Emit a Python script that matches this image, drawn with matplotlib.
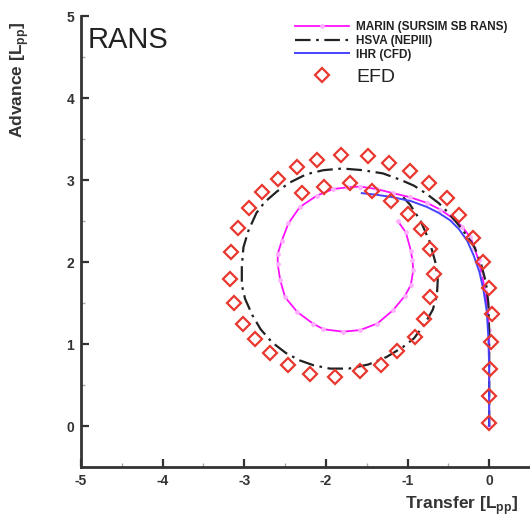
import matplotlib.pyplot as plt
from matplotlib.ticker import MultipleLocator

# MARIN (SURSIM SB RANS)
marin_x = [0.00, 0.00, -0.02, -0.05, -0.09, -0.13, -0.18, -0.23, -0.33, -0.44, -0.60, -0.76, -0.97, -1.18,
           -1.38, -1.58, -1.74, -1.91, -2.11, -2.32, -2.46, -2.54, -2.59, -2.59, -2.56, -2.50, -2.35, -2.16,
           -2.03, -1.79, -1.58, -1.37, -1.18, -1.03, -0.96, -0.93, -0.94, -0.96, -1.02, -1.12]
marin_y = [0.00, 1.17, 1.45, 1.65, 1.85, 2.02, 2.17, 2.30, 2.43, 2.53, 2.64, 2.72, 2.79, 2.84,
           2.89, 2.92, 2.91, 2.89, 2.81, 2.67, 2.47, 2.26, 2.10, 1.97, 1.78, 1.57, 1.39, 1.25,
           1.18, 1.15, 1.17, 1.25, 1.41, 1.59, 1.72, 1.90, 2.02, 2.14, 2.36, 2.50]

# HSVA (NEPIII)
hsva_x = [0.00, 0.00, 0.00, -0.01, -0.04, -0.10, -0.18, -0.28, -0.39, -0.50, -0.62, -0.78, -0.92, -1.08,
          -1.30, -1.55, -1.80, -2.03, -2.24, -2.44, -2.60, -2.75, -2.85, -2.95, -3.01, -3.03, -3.03, -2.99,
          -2.90, -2.80, -2.66, -2.49, -2.32, -2.15, -1.95, -1.72, -1.48, -1.26, -1.06, -0.92, -0.78, -0.69,
          -0.64, -0.63, -0.66, -0.73, -0.84, -0.97, -1.10]
hsva_y = [0.00, 0.55, 1.15, 1.50, 1.75, 1.98, 2.18, 2.33, 2.47, 2.60, 2.72, 2.84, 2.93, 3.00,
          3.08, 3.12, 3.14, 3.12, 3.07, 2.97, 2.86, 2.73, 2.60, 2.38, 2.18, 1.95, 1.72, 1.55,
          1.35, 1.18, 1.02, 0.89, 0.80, 0.74, 0.70, 0.70, 0.75, 0.84, 0.96, 1.07, 1.26, 1.42,
          1.60, 1.78, 2.00, 2.25, 2.50, 2.70, 2.84]

# IHR (CFD)
ihr_x = [0.00, 0.00, -0.01, -0.03, -0.07, -0.12, -0.19, -0.27, -0.37, -0.48, -0.62, -0.76, -0.95, -1.18, -1.38, -1.56]
ihr_y = [0.00, 0.70, 1.08, 1.40, 1.66, 1.88, 2.08, 2.26, 2.40, 2.51, 2.60, 2.67, 2.74, 2.79, 2.82, 2.84]

# EFD
efd_x = [0.00, 0.00, 0.01, 0.02, 0.03, 0.00, -0.07, -0.20, -0.37, -0.52, -0.74, -0.97, -1.23, -1.48, -1.81,
         -2.11, -2.35, -2.59, -2.78, -2.94, -3.08, -3.16, -3.17, -3.13, -3.01, -2.87, -2.68, -2.46, -2.19,
         -1.89, -1.58, -1.32, -1.13, -0.91, -0.80, -0.72, -0.67, -0.73, -0.84, -0.99, -1.20, -1.43, -1.70,
         -2.02, -2.29]
efd_y = [0.04, 0.37, 0.70, 1.03, 1.37, 1.68, 2.00, 2.29, 2.57, 2.78, 2.96, 3.11, 3.21, 3.29, 3.30,
         3.25, 3.16, 3.01, 2.85, 2.66, 2.42, 2.12, 1.79, 1.50, 1.25, 1.06, 0.89, 0.75, 0.64,
         0.60, 0.67, 0.75, 0.92, 1.09, 1.30, 1.57, 1.85, 2.16, 2.40, 2.59, 2.74, 2.86, 2.96,
         2.92, 2.84]


def main():
    plt.rcParams['font.family'] = ['Liberation Sans', 'DejaVu Sans']
    plt.rcParams['axes.unicode_minus'] = False
    fig = plt.figure(figsize=(5.30, 5.19), dpi=100)
    ax = fig.add_axes([81 / 530, 1 - 467 / 519, 1 - 81 / 530, (467 - 16) / 519])

    l1, = ax.plot(marin_x, marin_y, color='#ff11ff', lw=1.3, marker='o', ms=3.5,
                  mfc='#ffb0ff', mec='none', label='MARIN (SURSIM SB RANS)')
    l2, = ax.plot(hsva_x, hsva_y, color='#222222', lw=1.6, linestyle=(0, (7, 2.5, 1.2, 2.5)),
                  label='HSVA (NEPIII)')
    l3, = ax.plot(ihr_x, ihr_y, color='#4444ff', lw=1.4, label='IHR (CFD)')
    l4, = ax.plot(efd_x, efd_y, linestyle='none', marker='D', ms=7, mfc='none',
                  mec='#e8372f', mew=1.6, label='EFD')

    ax.set_xlim(-5, 0.5)
    ax.set_ylim(-0.5, 5)
    ax.xaxis.set_major_locator(MultipleLocator(1))
    ax.yaxis.set_major_locator(MultipleLocator(1))
    ax.xaxis.set_minor_locator(MultipleLocator(0.5))
    ax.yaxis.set_minor_locator(MultipleLocator(0.5))
    ax.tick_params(which='major', direction='in', length=6, width=1.6, color='#333333',
                   labelsize=10, labelcolor='#333333', pad=5)
    ax.tick_params(which='minor', direction='in', length=3, width=1, color='#aaaaaa')
    for lab in ax.get_xticklabels() + ax.get_yticklabels():
        lab.set_fontweight('bold')
    ax.spines['top'].set_visible(False)
    ax.spines['right'].set_visible(False)
    for s in ['left', 'bottom']:
        ax.spines[s].set_linewidth(2)
        ax.spines[s].set_color('#333333')

    fig.text(88 / 530, 1 - 26 / 519, 'RANS', fontsize=21, color='#222222', va='top', ha='left')

    fig.text(405 / 530, 1 - 506 / 519, r'Transfer [L$_{\mathregular{pp}}$]', fontsize=12.5,
             fontweight='bold', color='#333333', ha='left', va='center')
    fig.text(20 / 530, 1 - 80 / 519, r'Advance [L$_{\mathregular{pp}}$]', fontsize=12.5,
             fontweight='bold', color='#333333', ha='center', va='center', rotation=90)

    leg = ax.legend(handles=[l1, l2, l3], loc='upper left',
                    bbox_to_anchor=(295 / 530, 1 - 21 / 519),
                    bbox_transform=fig.transFigure, frameon=False, borderpad=0,
                    borderaxespad=0, labelspacing=0.15, handlelength=4.6, handletextpad=0.6,
                    prop={'size': 8.5, 'weight': 'bold'}, labelcolor='#222222')
    ax.add_artist(leg)
    ax.legend(handles=[l4], loc='upper left',
              bbox_to_anchor=(295 / 530, 1 - 68 / 519),
              bbox_transform=fig.transFigure, frameon=False, borderpad=0,
              borderaxespad=0, handlelength=2.8, handletextpad=0.35,
              prop={'size': 14}, labelcolor='#222222')

    fig.savefig('out.png', dpi=100)


if __name__ == "__main__":
    main()
